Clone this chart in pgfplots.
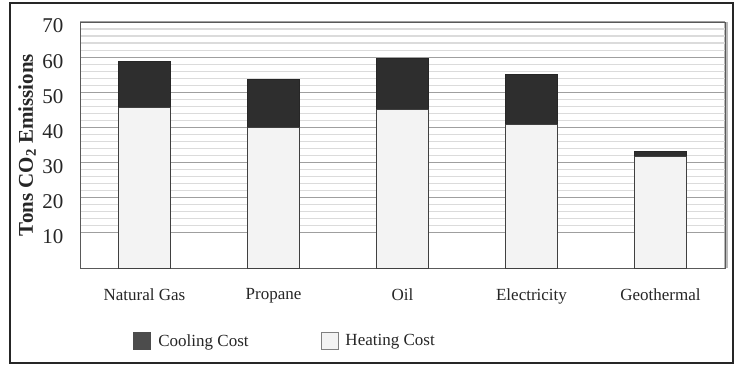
\documentclass[border=0pt]{standalone}
\usepackage{fontspec}
\setmainfont{Liberation Serif}
\usepackage{pgfplots}
\pgfplotsset{compat=1.18}
\definecolor{darkbar}{HTML}{2E2E2E}
\definecolor{lightbar}{HTML}{F3F3F3}
\begin{document}
\begin{tikzpicture}[x=1bp,y=1bp]
\useasboundingbox (0,0) rectangle (741,366);
\fill[white] (0,0) rectangle (741,366);
\draw[line width=2.5bp, black!85] (10,3) rectangle (733,363);
\fill[gray!55] (724,98) rectangle (728,344);
\begin{axis}[
  at={(80bp,98bp)}, anchor=south west,
  scale only axis, width=645bp, height=246bp,
  xmin=-0.5, xmax=4.5, ymin=0, ymax=70,
  ybar stacked, bar width=0.4,
  xtick={0,...,4},
  xticklabels={Natural Gas,Propane,Oil,Electricity,Geothermal},
  ytick={10,20,...,70},
  minor y tick num=4,
  ymajorgrids, yminorgrids,
  major grid style={draw=gray!75, line width=1.2bp},
  minor grid style={draw=gray!28, line width=1.2bp},
  major tick length=0, minor tick length=0,
  axis line style={draw=black!65, line width=1bp},
  tick label style={text=black!85},
  xticklabel style={font=\fontsize{17bp}{20bp}\selectfont, yshift=-17bp},
  yticklabel style={font=\fontsize{21bp}{24bp}\selectfont, xshift=-13bp, yshift=-4bp},
  /pgf/number format/assume math mode=true,
  ylabel={Tons CO\textsubscript{2} Emissions},
  ylabel style={font=\bfseries\fontsize{21bp}{24bp}\selectfont, at={(rel axis cs:-0.082,0.5)}, anchor=center, text=black!85},
  reverse legend,
  legend style={at={(rel axis cs:0.318,-0.297)}, anchor=center, draw=none, fill=none,
    font=\fontsize{17bp}{20bp}\selectfont, text=black!85,
    /tikz/every even column/.append style={column sep=70bp}},
  legend columns=2,
]
\addplot[fill=lightbar, draw=black!75, line width=1bp,
  legend image code/.code={\draw[fill=lightbar, draw=black!50, line width=0.8bp] (0bp,-8.5bp) rectangle (17bp,8.5bp); \path (22bp,0bp);}]
  coordinates {(0,45.6) (1,40.0) (2,45.2) (3,40.7) (4,31.8)};
\addlegendentry{Heating Cost}
\addplot[fill=darkbar, draw=black!85, line width=1bp,
  legend image code/.code={\draw[fill=black!70, draw=black!70, line width=0.8bp] (0bp,-8.5bp) rectangle (17bp,8.5bp); \path (22bp,0bp);}]
  coordinates {(0,13.1) (1,13.6) (2,14.3) (3,14.3) (4,1.3)};
\addlegendentry{Cooling Cost}
\end{axis}
\end{tikzpicture}
\end{document}
